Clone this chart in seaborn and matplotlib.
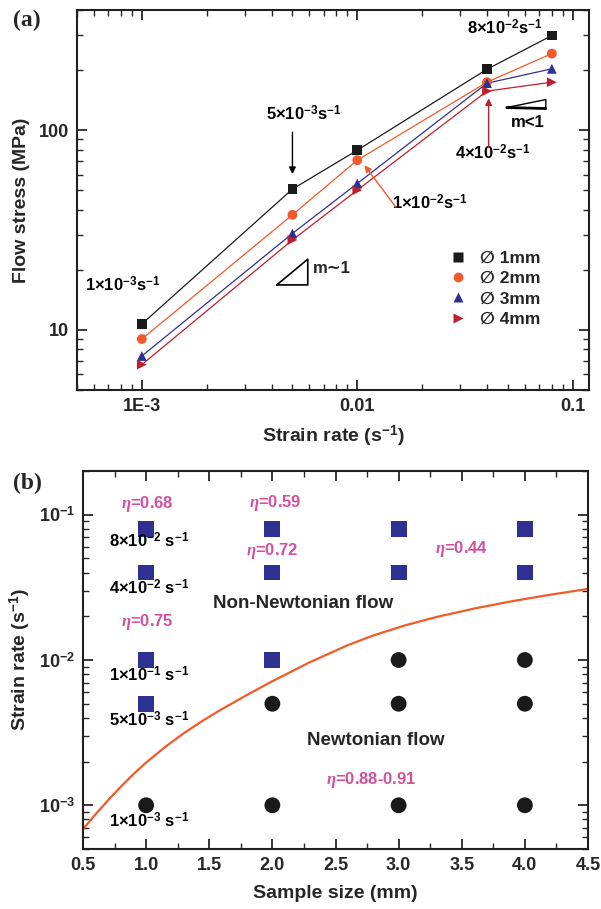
import numpy as np
import pandas as pd
import matplotlib
matplotlib.use("Agg")
import matplotlib.pyplot as plt
import seaborn as sns
from matplotlib.ticker import MultipleLocator, FixedLocator, NullFormatter

# ====== data: panel (a) flow stress vs strain rate ======
rates = [1e-3, 5e-3, 1e-2, 4e-2, 8e-2]
stress_1mm = [10.7, 50.7, 79.4, 202, 298]
stress_2mm = [9.0, 37.7, 70.8, 174, 242]
stress_3mm = [7.4, 30.4, 54.1, 172, 203]
stress_4mm = [6.7, 28.2, 50.1, 157, 174]
size_labels = ["\u2205 1mm", "\u2205 2mm", "\u2205 3mm", "\u2205 4mm"]
size_colors = ["#1a1a1a", "#f15a29", "#2e3192", "#be1e2d"]
size_markers = ["s", "o", "^", ">"]

xticks_a = [1e-3, 1e-2, 1e-1]
xtick_labels_a = ["1E-3", "0.01", "0.1"]
yticks_a = [10, 100]
ytick_labels_a = ["10", "100"]

# ====== data: panel (b) deformation map ======
nn_size = [1, 2, 3, 4, 1, 2, 3, 4, 1, 2, 1]
nn_rate = [0.08, 0.08, 0.08, 0.08, 0.04, 0.04, 0.04, 0.04, 0.01, 0.01, 0.005]
nt_size = [3, 4, 2, 3, 4, 1, 2, 3, 4]
nt_rate = [0.01, 0.01, 0.005, 0.005, 0.005, 0.001, 0.001, 0.001, 0.001]
# boundary curve
curve_size = [0.5, 0.6, 0.7, 0.8, 0.9, 1.0, 1.15, 1.3, 1.45, 1.6, 1.8,
              2.0, 2.3, 2.6, 2.8, 3.05, 3.3, 3.6, 3.9, 4.2, 4.5]
curve_rate = [6.85e-4, 8.68e-4, 1.086e-3, 1.344e-3, 1.641e-3, 1.968e-3,
              2.518e-3, 3.141e-3, 3.828e-3, 4.592e-3, 5.754e-3, 7.145e-3,
              9.683e-3, 1.268e-2, 1.476e-2, 1.73e-2, 1.977e-2, 2.262e-2,
              2.541e-2, 2.812e-2, 3.087e-2]
xticks_b = [0.5, 1.0, 1.5, 2.0, 2.5, 3.0, 3.5, 4.0, 4.5]
xtick_labels_b = ["0.5", "1.0", "1.5", "2.0", "2.5", "3.0", "3.5", "4.0", "4.5"]
yticks_b = [1e-3, 1e-2, 1e-1]
ytick_labels_b = [r"10$^{-3}$", r"10$^{-2}$", r"10$^{-1}$"]

# ====== style ======
sns.set_style("ticks")
plt.rcParams["font.family"] = ["Liberation Sans", "DejaVu Sans"]
plt.rcParams["font.weight"] = "bold"
plt.rcParams["axes.labelweight"] = "bold"
plt.rcParams["mathtext.fontset"] = "custom"
plt.rcParams["mathtext.rm"] = "Liberation Sans:bold"
plt.rcParams["mathtext.bf"] = "Liberation Sans:bold"
plt.rcParams["mathtext.it"] = "Liberation Serif:bold:italic"
plt.rcParams["axes.linewidth"] = 1.5

PINK = "#d4509e"
ORANGE = "#f15a29"

fig = plt.figure(figsize=(6.01, 9.09), dpi=100)
ax1 = fig.add_axes([77 / 601, 1 - 390 / 909, 512 / 601, 380 / 909])
ax2 = fig.add_axes([83 / 601, 1 - 849 / 909, 505 / 601, 378 / 909])

# ====== panel (a) ======
stress = [stress_1mm, stress_2mm, stress_3mm, stress_4mm]
df_a = pd.DataFrame({
    "rate": np.tile(rates, 4),
    "stress": np.concatenate(stress),
    "size": np.repeat(size_labels, len(rates)),
})
pal = dict(zip(size_labels, size_colors))
mk = dict(zip(size_labels, size_markers))

sns.lineplot(data=df_a, x="rate", y="stress", hue="size", palette=pal,
             linewidth=0.9, legend=False, ax=ax1, sort=True)
sns.scatterplot(data=df_a, x="rate", y="stress", hue="size", style="size",
                palette=pal, markers=mk, s=50, edgecolor="none", ax=ax1, zorder=3)

ax1.set_xscale("log")
ax1.set_yscale("log")
ax1.set_xlim(5e-4, 0.119)
ax1.set_ylim(5, 400)
ax1.xaxis.set_major_locator(FixedLocator(xticks_a))
ax1.set_xticklabels(xtick_labels_a)
ax1.yaxis.set_major_locator(FixedLocator(yticks_a))
ax1.set_yticklabels(ytick_labels_a)
ax1.xaxis.set_minor_formatter(NullFormatter())
ax1.yaxis.set_minor_formatter(NullFormatter())
ax1.set_xlabel("Strain rate (s$^{-1}$)", fontsize=14, labelpad=6)
ax1.set_ylabel("Flow stress (MPa)", fontsize=14, labelpad=6)

leg = ax1.legend(loc="upper left", bbox_to_anchor=(0.71, 0.385), frameon=False,
                 fontsize=12.5, handletextpad=0.7, labelspacing=0.3,
                 handlelength=1.2, borderaxespad=0)
for t in leg.get_texts():
    t.set_fontweight("bold")

ann_kw = dict(fontsize=12, ha="center", va="center", color="black")
ax1.text(0.0483, 324, "8×10$^{-2}$s$^{-1}$", **ann_kw)
ax1.text(5.65e-3, 121, "5×10$^{-3}$s$^{-1}$", **ann_kw)
ax1.text(0.0217, 43.2, "1×10$^{-2}$s$^{-1}$", **ann_kw)
ax1.text(0.0426, 76.7, "4×10$^{-2}$s$^{-1}$", **ann_kw)
ax1.text(8.16e-4, 16.8, "1×10$^{-3}$s$^{-1}$", **ann_kw)
ax1.text(0.0618, 109.6, "m<1", **ann_kw)
ax1.text(6.2e-3, 20.4, "m\u223c1", fontsize=12, ha="left", va="center")

ax1.annotate("", xy=(5e-3, 60.3), xytext=(5e-3, 97.7),
             arrowprops=dict(arrowstyle="-|>", color="black", lw=1.0,
                             mutation_scale=10, shrinkA=0, shrinkB=0))
ax1.annotate("", xy=(0.0108, 66.8), xytext=(0.0151, 41.2),
             arrowprops=dict(arrowstyle="-|>", color=ORANGE, lw=1.0,
                             mutation_scale=10, shrinkA=0, shrinkB=0))
ax1.annotate("", xy=(0.0407, 144.5), xytext=(0.0407, 82.2),
             arrowprops=dict(arrowstyle="-|>", color="#be1e2d", lw=1.0,
                             mutation_scale=10, shrinkA=0, shrinkB=0))

# slope triangles
ax1.plot([4.23e-3, 5.89e-3, 5.89e-3, 4.23e-3], [16.8, 22.6, 16.8, 16.8],
         color="black", lw=1.2)
ax1.plot([0.0494, 0.075, 0.075], [129.9, 142.4, 128.4], color="black", lw=1.0)
ax1.plot([0.0494, 0.075], [129.9, 128.4], color="black", lw=2.0)

# ====== panel (b) ======
df_b = pd.DataFrame({
    "size": nn_size + nt_size,
    "rate": nn_rate + nt_rate,
    "flow": ["Non-Newtonian"] * len(nn_size) + ["Newtonian"] * len(nt_size),
})
sns.scatterplot(data=df_b, x="size", y="rate", hue="flow", style="flow",
                palette={"Non-Newtonian": "#2e3192", "Newtonian": "#1a1a1a"},
                markers={"Non-Newtonian": "s", "Newtonian": "o"},
                s=130, edgecolor="none", legend=False, ax=ax2, zorder=3)
df_c = pd.DataFrame({"size": curve_size, "rate": curve_rate})
sns.lineplot(data=df_c, x="size", y="rate", color=ORANGE, linewidth=1.6, ax=ax2)

ax2.set_yscale("log")
ax2.set_xlim(0.5, 4.5)
ax2.set_ylim(5e-4, 0.2)
ax2.xaxis.set_major_locator(FixedLocator(xticks_b))
ax2.set_xticklabels(xtick_labels_b)
ax2.xaxis.set_minor_locator(MultipleLocator(0.25))
ax2.yaxis.set_major_locator(FixedLocator(yticks_b))
ax2.set_yticklabels(ytick_labels_b)
ax2.yaxis.set_minor_formatter(NullFormatter())
ax2.set_xlabel("Sample size (mm)", fontsize=14, labelpad=8)
ax2.set_ylabel("Strain rate (s$^{-1}$)", fontsize=14, labelpad=4)

pink_kw = dict(fontsize=12, ha="center", va="center", color=PINK)
ax2.text(1.01, 0.119, r"$\eta$=0.68", **pink_kw)
ax2.text(2.02, 0.12, r"$\eta$=0.59", **pink_kw)
ax2.text(2.0, 0.0567, r"$\eta$=0.72", **pink_kw)
ax2.text(3.5, 0.0585, r"$\eta$=0.44", **pink_kw)
ax2.text(1.01, 0.0182, r"$\eta$=0.75", **pink_kw)
ax2.text(2.78, 1.5e-3, r"$\eta$=0.88-0.91", **pink_kw)

blk_kw = dict(fontsize=12, ha="center", va="center", color="black")
ax2.text(1.02, 0.066, "8×10$^{-2}$ s$^{-1}$", **blk_kw)
ax2.text(1.02, 0.0316, "4×10$^{-2}$ s$^{-1}$", **blk_kw)
ax2.text(1.02, 7.9e-3, "1×10$^{-1}$ s$^{-1}$", **blk_kw)
ax2.text(1.02, 3.9e-3, "5×10$^{-3}$ s$^{-1}$", **blk_kw)
ax2.text(1.02, 7.8e-4, "1×10$^{-3}$ s$^{-1}$", **blk_kw)
ax2.text(2.24, 0.0245, "Non-Newtonian flow", fontsize=13.5, ha="center", va="center")
ax2.text(2.82, 2.8e-3, "Newtonian flow", fontsize=13.5, ha="center", va="center")

# ====== shared tick style ======
for ax in (ax1, ax2):
    ax.tick_params(which="both", direction="in", top=True, right=True)
    ax.tick_params(which="major", length=7, width=1.3, labelsize=13, pad=6)
    ax.tick_params(which="minor", length=4, width=1.0)
    for lab in ax.get_xticklabels() + ax.get_yticklabels():
        lab.set_fontweight("bold")
    for sp in ax.spines.values():
        sp.set_linewidth(1.5)
        sp.set_color("#231f20")

fig.text(13 / 601, 1 - 20 / 909, "(a)", family="Liberation Serif",
         fontweight="bold", fontsize=17, va="center", ha="left")
fig.text(13 / 601, 1 - 483 / 909, "(b)", family="Liberation Serif",
         fontweight="bold", fontsize=17, va="center", ha="left")

fig.savefig("out.png", dpi=100)
